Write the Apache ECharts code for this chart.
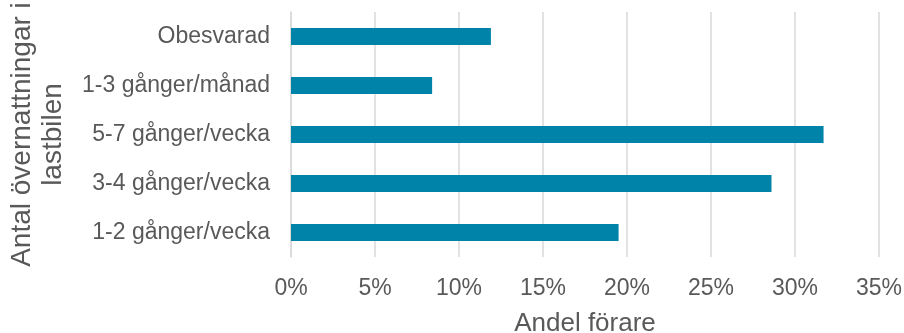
<!DOCTYPE html>
<html>
<head>
<meta charset="utf-8">
<script src="https://cdn.jsdelivr.net/npm/echarts@6/dist/echarts.min.js"></script>
<style>
  html, body { margin: 0; padding: 0; background: #fff; }
  #chart { width: 904px; height: 333px; }
</style>
</head>
<body>
<div id="chart"></div>
<script>
// Categories listed bottom to top, as the y axis draws them
const categories = ['1-2 gånger/vecka', '3-4 gånger/vecka', '5-7 gånger/vecka', '1-3 gånger/månad', 'Obesvarad'];
// Share of drivers, in percent
const shares = [19.5, 28.6, 31.7, 8.4, 11.9];
const xTicks = { min: 0, max: 35, interval: 5 };
const xName = 'Andel förare';
const yName = 'Antal övernattningar i\nlastbilen';

const textColor = '#595959';
const font = "'Liberation Sans', Arial, sans-serif";

const chart = echarts.init(document.getElementById('chart'), null, { renderer: 'canvas' });
chart.setOption({
  animation: false,
  grid: { left: 291, right: 25, top: 12, bottom: 76, containLabel: false, outerBoundsMode: 'none' },
  xAxis: {
    type: 'value',
    min: xTicks.min, max: xTicks.max, interval: xTicks.interval,
    name: xName,
    nameLocation: 'middle',
    nameGap: 54,
    nameTextStyle: { color: textColor, fontSize: 26, fontFamily: font },
    axisLine: { show: false },
    axisTick: { show: false },
    axisLabel: {
      formatter: v => v + '%',
      color: textColor, fontSize: 23, fontFamily: font, margin: 20
    },
    splitLine: { show: true, lineStyle: { color: '#d9d9d9', width: 1.5 } }
  },
  yAxis: {
    type: 'category',
    data: categories,
    name: yName,
    nameLocation: 'middle',
    nameRotate: 90,
    nameGap: 222,
    nameTextStyle: { color: textColor, fontSize: 28, fontFamily: font, lineHeight: 31, align: 'center' },
    axisLine: { show: true, lineStyle: { color: '#d9d9d9', width: 1.5 } },
    axisTick: { show: false },
    axisLabel: { color: textColor, fontSize: 23, fontFamily: font, margin: 21 }
  },
  series: [{
    type: 'bar',
    data: shares,
    barWidth: 17,
    itemStyle: { color: '#0083a9' }
  }]
});
</script>
</body>
</html>
